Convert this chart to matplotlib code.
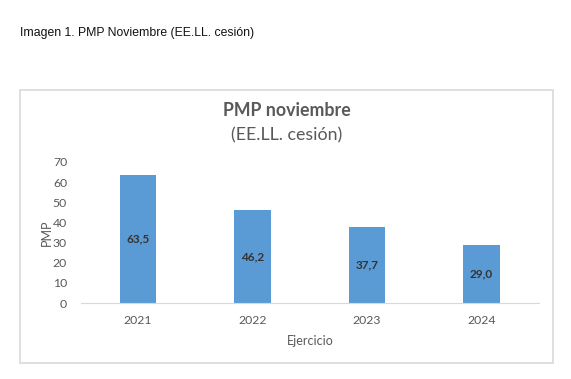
import matplotlib.pyplot as plt
import matplotlib.patches as patches
import numpy as np

years  = ['2021', '2022', '2023', '2024']
pmp    = [63.5, 46.2, 37.7, 29.0]
labels = ['63,5', '46,2', '37,7', '29,0']
yticks = [0, 10, 20, 30, 40, 50, 60, 70]

W, H = 571, 379
grey = '#595959'
plt.rcParams['font.family'] = ['Lato', 'DejaVu Sans']

fig = plt.figure(figsize=(W / 100, H / 100), dpi=100)
fig.patch.set_facecolor('white')

# caption above the chart box
fig.text(20 / W, 1 - 33 / H, 'Imagen 1. PMP Noviembre (EE.LL. cesión)',
         family='Liberation Sans', fontsize=8.8, color='#111111', va='center')

# chart frame
fig.add_artist(patches.Rectangle((20 / W, 1 - 363 / H), 533 / W, 273 / H,
                                 transform=fig.transFigure, fill=False,
                                 edgecolor='#D9D9D9', lw=1.2))

fig.text(286.5 / W, 1 - 111 / H, 'PMP noviembre', ha='center', va='center',
         fontsize=12.8, fontweight='bold', color=grey)
fig.text(286.5 / W, 1 - 135 / H, '(EE.LL. cesión)', ha='center', va='center',
         fontsize=12.8, color=grey)

ax = fig.add_axes([81 / W, 1 - 303 / H, 457.5 / W, 141 / H])
x = np.arange(len(years))
bars = ax.bar(x, pmp, width=0.32, color='#5B9BD5')
for xi, v, lab in zip(x, pmp, labels):
    ax.text(xi, v / 2, lab, ha='center', va='center', fontsize=8.5,
            fontweight='bold', color='#333333')

ax.set_xlim(-0.5, 3.5)
ax.set_ylim(0, 70)
ax.set_yticks(yticks)
ax.set_xticks(x)
ax.set_xticklabels(years)
ax.tick_params(axis='both', length=0, labelsize=8.8, colors=grey)
ax.tick_params(axis='y', pad=10)
ax.tick_params(axis='x', pad=9)
for s in ['top', 'right', 'left']:
    ax.spines[s].set_visible(False)
ax.spines['bottom'].set_color('#D9D9D9')
ax.set_ylabel('PMP', fontsize=9, color=grey, labelpad=0)
ax.set_xlabel('Ejercicio', fontsize=9, color=grey, labelpad=6)

fig.savefig('out.png', dpi=100)
